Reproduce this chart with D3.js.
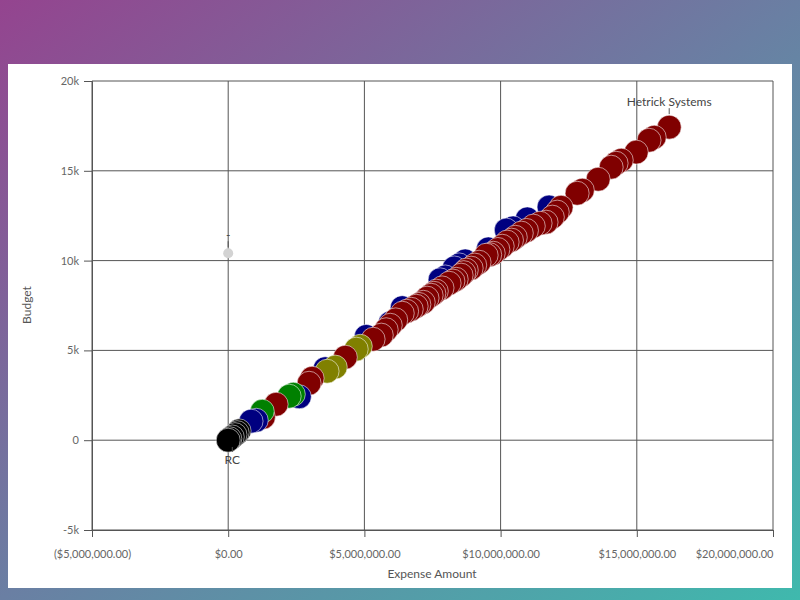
<!DOCTYPE html>
<html>
<head>
<meta charset="utf-8">
<script src="https://cdn.jsdelivr.net/npm/d3@7"></script>
<style>
  body { margin: 0; }
  svg { display: block; font-family: Lato, "Noto Sans", sans-serif; }
</style>
</head>
<body>
<svg id="chart" width="800" height="600"></svg>
<script>
// chart values
var expense = [
  16190000, 15640000, 15450000, 14980000, 14430000, 14240000, 14060000, 13580000, 13000000, 12810000,
  12220000, 12080000, 11670000, 11200000, 10760000, 10540000, 10240000, 10060000, 9730000, 9470000,
  9210000, 8920000, 8740000, 8550000, 8370000, 8110000, 7640000, 7450000, 7300000, 7160000,
  6900000, 6720000, 6390000, 5950000, 5620000, 5320000, 4850000, 4700000, 4300000, 3930000,
  3630000, 3080000, 2970000, 2390000, 2240000, 1760000, 1290000, 1250000,
  11900000, 11450000, 10950000, 10400000, 9900000, 9600000, 9050000, 8650000, 8250000, 7850000,
  7550000, 7000000, 6550000, 6150000, 5800000,
  11780000, 10980000, 10460000, 10210000, 9550000, 8700000, 8480000, 8300000, 7970000, 7780000,
  6390000, 5950000, 5070000, 3560000, 2610000, 1030000, 840000,
  400000, 330000, 250000, 150000, 60000, 0,
  0
];
var budget = [
  17430, 16870, 16700, 16040, 15590, 15420, 15200, 14530, 13920, 13750,
  12970, 12700, 12140, 11920, 11530, 11300, 11030, 10800, 10410, 10300,
  9910, 9580, 9470, 9190, 8960, 8740, 8300, 8070, 7910, 7680,
  7460, 7290, 7070, 6400, 5850, 5620, 5230, 5070, 4620, 4070,
  3840, 3450, 3170, 2560, 2450, 2000, 1280, 1610,
  12420, 12080, 11680, 11140, 10620, 10330, 9750, 9330, 8860, 8480,
  8180, 7560, 7180, 6700, 6150,
  12980, 12320, 11820, 11700, 10650, 9980, 9760, 9590, 9090, 8930,
  7380, 6520, 5780, 3980, 2420, 1110, 1060,
  520, 420, 310, 180, 80, 0,
  10410
];
var group = [
  "A", "A", "A", "A", "A", "A", "A", "A", "A", "A",
  "A", "A", "A", "A", "A", "A", "A", "A", "A", "A",
  "A", "A", "A", "A", "A", "A", "A", "A", "A", "A",
  "A", "A", "A", "A", "A", "A", "D", "D", "A", "D",
  "D", "A", "A", "C", "C", "A", "A", "C",
  "A", "A", "A", "A", "A", "A", "A", "A", "A", "A",
  "A", "A", "A", "A", "A",
  "B", "B", "B", "B", "B", "B", "B", "B", "B", "B",
  "B", "B", "B", "B", "B", "B", "B",
  "E", "E", "E", "E", "E", "E",
  "F"
];
var names = {0: "Hetrick Systems", 83: "RC", 86: "-"};

var groups = ["A", "B", "C", "D", "E", "F"];
var groupColors = ["#800000", "#000080", "#008000", "#808000", "#000000", "#d3d3d3"];
var xTicks = [-5000000, 0, 5000000, 10000000, 15000000, 20000000];
var yTicks = [-5000, 0, 5000, 10000, 15000, 20000];

var svg = d3.select("#chart");

// background
var grad = svg.append("defs").append("linearGradient")
    .attr("id", "bg").attr("x1", 0).attr("y1", 0).attr("x2", 1).attr("y2", 1);
grad.append("stop").attr("offset", "0%").attr("stop-color", "#94448f");
grad.append("stop").attr("offset", "50%").attr("stop-color", "#6a7fa3");
grad.append("stop").attr("offset", "100%").attr("stop-color", "#3fb9ad");
svg.append("rect").attr("width", 800).attr("height", 600).attr("fill", "url(#bg)");
svg.append("rect").attr("x", 8).attr("y", 64).attr("width", 784).attr("height", 524).attr("fill", "#fff");

var x = d3.scaleLinear().domain([-5000000, 20000000]).range([92, 773]);
var y = d3.scaleLinear().domain([-5000, 20000]).range([530, 81]);
var color = d3.scaleOrdinal().domain(groups).range(groupColors);

var money = d3.format(",.2f");
function fmtX(d) { return d < 0 ? "($" + money(-d) + ")" : "$" + money(d); }
function fmtY(d) { return d3.format("~s")(d).replace("\u2212", "-"); }

// grid
svg.append("g").selectAll("line").data(xTicks).join("line")
    .attr("x1", x).attr("x2", x).attr("y1", 81).attr("y2", 530)
    .attr("stroke", "#555").attr("stroke-width", 1);
svg.append("g").selectAll("line").data(yTicks).join("line")
    .attr("y1", y).attr("y2", y).attr("x1", 92).attr("x2", 773)
    .attr("stroke", "#555").attr("stroke-width", 1);

var xAxis = svg.append("g").attr("transform", "translate(0,530)")
    .call(d3.axisBottom(x).tickValues(xTicks).tickFormat(fmtX).tickSize(7).tickPadding(13));
var yAxis = svg.append("g").attr("transform", "translate(92,0)")
    .call(d3.axisLeft(y).tickValues(yTicks).tickFormat(fmtY).tickSize(8).tickPadding(5));
[xAxis, yAxis].forEach(function(a) {
  a.select(".domain").attr("stroke", "#555");
  a.selectAll(".tick line").attr("stroke", "#555");
  a.selectAll("text").attr("fill", "#666").style("font-size", "11px").style("font-family", "Lato, sans-serif");
});
// last x label kept inside the plot edge
xAxis.selectAll(".tick text").filter(function(d) { return d === 20000000; }).attr("text-anchor", "end");

svg.append("text").attr("x", 432).attr("y", 578).attr("text-anchor", "middle")
    .attr("fill", "#555").style("font-size", "12px").text("Expense Amount");
svg.append("text").attr("transform", "translate(31,305) rotate(-90)").attr("text-anchor", "middle")
    .attr("fill", "#555").style("font-size", "12px").text("Budget");

// points
var pts = expense.map(function(e, i) {
  return {x: e, y: budget[i], g: group[i], name: names[i] || ""};
});
var order = pts.slice().sort(function(a, b) {
  var ab = a.g === "B" && a.x > 3000000, bb = b.g === "B" && b.x > 3000000;
  if (ab !== bb) return ab ? -1 : 1;
  return b.x - a.x;
});
function radius(d) { return d.g === "F" ? 5 : 12; }

svg.append("g").selectAll("circle").data(order).join("circle")
    .attr("cx", function(d) { return x(d.x); })
    .attr("cy", function(d) { return y(d.y); })
    .attr("r", radius)
    .attr("fill", function(d) { return color(d.g); })
    .attr("stroke", function(d) { return d.g === "F" ? "none" : "rgba(255,255,255,0.55)"; })
    .attr("stroke-width", 1);

// labels
var labeled = pts.filter(function(d) { return d.name; });
var lab = svg.append("g").selectAll("g").data(labeled).join("g");
lab.append("line")
    .attr("x1", function(d) { return x(d.x); }).attr("x2", function(d) { return x(d.x); })
    .attr("y1", function(d) { return d.name === "RC" ? y(d.y) + 10 : y(d.y) - radius(d) - 1; })
    .attr("y2", function(d) { return d.name === "RC" ? y(d.y) + 15 : y(d.y) - radius(d) - 7; })
    .attr("stroke", "#555");
lab.append("text")
    .attr("x", function(d) { return x(d.x); })
    .attr("y", function(d) { return d.name === "RC" ? y(d.y) + 27 : y(d.y) - radius(d) - 9; })
    .attr("text-anchor", "middle").attr("fill", "#444").style("font-size", "12px")
    .text(function(d) { return d.name; });
</script>
</body>
</html>
